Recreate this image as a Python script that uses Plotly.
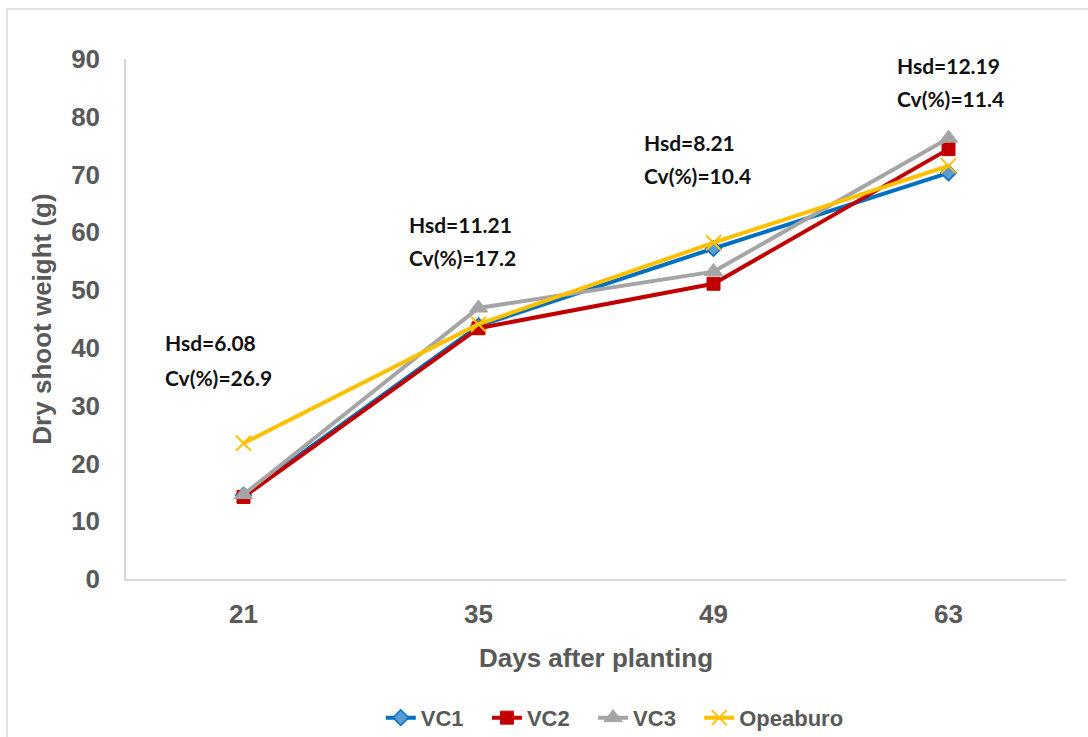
import plotly.graph_objects as go

# Days after planting (category axis)
days = ["21", "35", "49", "63"]

# Dry shoot weight (g) per variety
vc1 = [14.5, 43.8, 57.2, 70.3]
vc2 = [14.2, 43.4, 51.1, 74.4]
vc3 = [14.6, 46.9, 53.2, 76.3]
opeaburo = [23.5, 44.1, 58.2, 71.5]

# Statistics shown above each sampling date
hsd = ["6.08", "11.21", "8.21", "12.19"]
cv = ["26.9", "17.2", "10.4", "11.4"]

series = [
    ("VC1", vc1, "#0070C0", dict(symbol="diamond", size=12, color="#5B9BD5",
                                  line=dict(color="#0070C0", width=1.5))),
    ("VC2", vc2, "#C00000", dict(symbol="square", size=13, color="#C00000",
                                  line=dict(color="#C00000", width=1))),
    ("VC3", vc3, "#A5A5A5", dict(symbol="triangle-up", size=16, color="#A5A5A5",
                                  line=dict(color="#A5A5A5", width=1))),
    ("Opeaburo", opeaburo, "#FFC000", dict(symbol="x-thin", size=15, color="#FFC000",
                                            line=dict(color="#FFC000", width=2))),
]

fig = go.Figure()
NBSP = "\u00a0"
for i, (name, vals, col, mk) in enumerate(series):
    # pad all but the last legend label so the entries sit further apart
    label = name + (NBSP * 3 if i < len(series) - 1 else "")
    fig.add_trace(go.Scatter(
        x=days, y=vals, name=label, mode="lines+markers",
        line=dict(color=col, width=4), marker=mk,
    ))

W, H = 1088, 737
ml, mr, mt, mb = 126, 22, 59, 158
pw, ph = W - ml - mr, H - mt - mb

# Hsd / Cv label anchors: (category offset, Hsd line centre, Cv line centre)
ann_pos = [(-0.343, 40.85, 34.8), (0.696, 61.4, 55.6),
           (1.696, 75.6, 69.9), (2.772, 88.8, 83.2)]
ann_font = dict(family="Lato, Carlito, Calibri, sans-serif", size=21, color="#111111",
                weight="bold")
annotations = []
for (xo, yh, yc), h, c in zip(ann_pos, hsd, cv):
    for yv, txt in ((yh, f"Hsd={h}"), (yc, f"Cv(%)={c}")):
        annotations.append(dict(
            x=xo, y=yv, xref="x", yref="y", xanchor="left", yanchor="middle",
            text=txt, showarrow=False, font=ann_font,
        ))

bold_gray = dict(family="Liberation Sans, Arial, sans-serif", color="#595959",
                 weight="bold")

fig.update_layout(
    width=W, height=H,
    margin=dict(l=ml, r=mr, t=mt, b=mb, autoexpand=False),
    paper_bgcolor="white", plot_bgcolor="white",
    showlegend=True,
    legend=dict(orientation="h", x=0.52, xanchor="center", y=-0.267, yanchor="middle",
                font=dict(size=22, **bold_gray),
                tracegroupgap=0, bgcolor="rgba(0,0,0,0)"),
    xaxis=dict(
        type="category", range=[-0.5, 3.5],
        showline=True, linecolor="#D9D9D9", linewidth=2,
        showgrid=False, zeroline=False, ticks="",
        tickfont=dict(size=26, **bold_gray), ticklabelstandoff=11,
        title=dict(text="Days after planting", standoff=21,
                   font=dict(size=26, **bold_gray)),
    ),
    yaxis=dict(
        range=[0, 90], dtick=10,
        showline=True, linecolor="#D9D9D9", linewidth=1.5,
        showgrid=False, zeroline=False, ticks="",
        tickfont=dict(size=26, **bold_gray), ticklabelstandoff=19,
        title=dict(text="Dry shoot weight (g)", standoff=12,
                   font=dict(size=26, **bold_gray)),
    ),
    annotations=annotations,
    shapes=[dict(
        type="rect", xref="paper", yref="paper", layer="below",
        x0=(7 - ml) / pw, x1=(W + 10 - ml) / pw,
        y0=-(H + 10 - mt - ph) / ph, y1=(H - mb - 9) / ph,
        line=dict(color="#D9D9D9", width=1.5), fillcolor="rgba(0,0,0,0)",
    )],
)

fig.write_html("out.html")
